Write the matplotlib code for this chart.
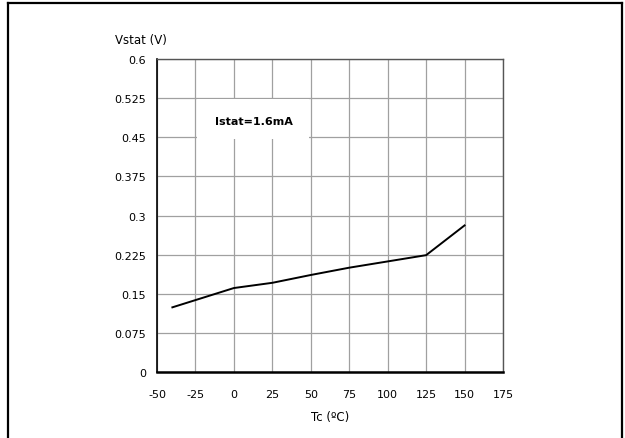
import matplotlib
matplotlib.use("Agg")
import matplotlib.pyplot as plt
from matplotlib.lines import Line2D
from matplotlib.patches import Rectangle

# Vstat vs case temperature
tc = [-40, 0, 25, 50, 75, 100, 125, 150]
vstat = [0.124, 0.161, 0.171, 0.186, 0.200, 0.212, 0.224, 0.281]

x_ticks = [-50, -25, 0, 25, 50, 75, 100, 125, 150, 175]
x_labels = ["-50", "-25", "0", "25", "50", "75", "100", "125", "150", "175"]
y_ticks = [0, 0.075, 0.15, 0.225, 0.3, 0.375, 0.45, 0.525, 0.6]
y_labels = ["0", "0.075", "0.15", "0.225", "0.3", "0.375", "0.45", "0.525", "0.6"]

plt.rcParams['font.family'] = ['DejaVu Sans']

fig = plt.figure(figsize=(6.25, 4.39), dpi=100)
ax = fig.add_axes([0.2512, 0.1503, 0.5536, 0.7130])

ax.plot(tc, vstat, color="black", lw=1.4, zorder=3)

ax.set_xlim(-50, 175)
ax.set_ylim(0, 0.6)
ax.set_xticks(x_ticks)
ax.set_xticklabels(x_labels)
ax.set_yticks(y_ticks)
ax.set_yticklabels(y_labels)
ax.tick_params(length=0, labelsize=8)
ax.tick_params(axis="x", pad=12)
ax.tick_params(axis="y", pad=8)
ax.grid(True, color="#a0a0a0", lw=0.9)
ax.set_axisbelow(True)

for s in ["left", "bottom"]:
    ax.spines[s].set_color("black")
ax.spines["left"].set_linewidth(1.2)
ax.spines["bottom"].set_linewidth(1.8)
for s in ["top", "right"]:
    ax.spines[s].set_color("#555555")
    ax.spines[s].set_linewidth(1.0)

# white label box
ax.add_patch(Rectangle((-24, 0.446), 72.8, 0.0775, facecolor="white",
                       edgecolor="none", zorder=2))
ax.text(13, 0.481, "Istat=1.6mA", fontsize=8, fontweight="bold",
        ha="center", va="center", zorder=4)

fig.text(0.184, 0.907, "Vstat (V)", fontsize=8.5, ha="left", va="center")
fig.text(0.528, 0.048, "Tc (ºC)", fontsize=8.5, ha="center", va="center")

# outer frame
fw = 1.6
fig.add_artist(Line2D([0.0120, 0.0120], [0.0, 0.9920], color="black", lw=fw))
fig.add_artist(Line2D([0.9952, 0.9952], [0.0, 0.9920], color="black", lw=fw))
fig.add_artist(Line2D([0.0120, 0.9952], [0.9920, 0.9920], color="black", lw=fw))

fig.savefig("out.png", dpi=100)
